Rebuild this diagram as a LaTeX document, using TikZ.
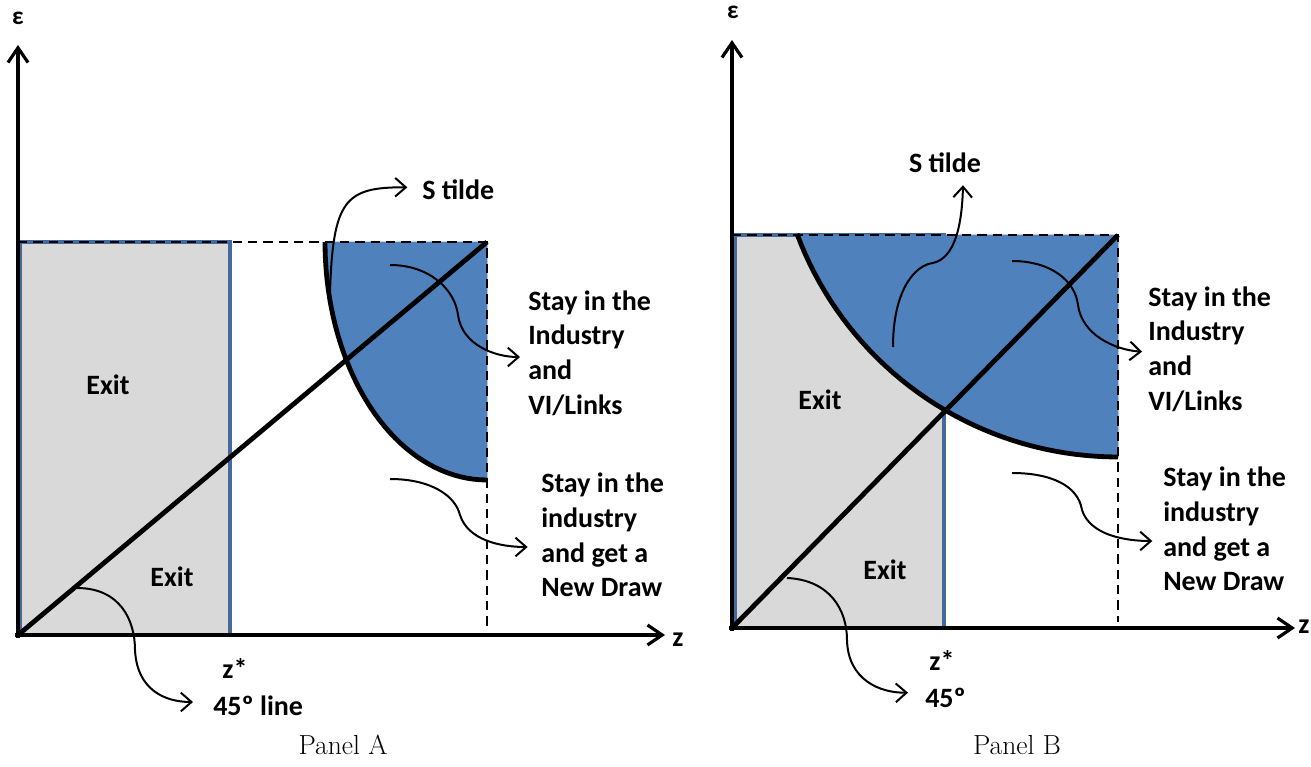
\documentclass[tikz,border=0pt]{standalone}
\usepackage{fontspec}
\newfontfamily\carlito{Carlito}
\usetikzlibrary{arrows.meta}
\definecolor{stayblue}{HTML}{4F81BD}
\definecolor{exitgray}{HTML}{D9D9D9}
\definecolor{exitedge}{HTML}{45699A}
\begin{document}
\begin{tikzpicture}[x=0.75pt,y=-0.75pt,
    axes/.style={line width=2.4pt,-{Straight Barb[length=11pt,width=15pt]}},
    important line/.style={line width=3.6pt},
    guide/.style={line width=1.5pt,dash pattern=on 7pt off 4.5pt},
    exit region/.style={fill=exitgray,draw=exitedge,line width=2.5pt},
    stay region/.style={fill=stayblue,draw=stayblue},
    pointer/.style={line width=1.5pt,-{Straight Barb[length=8pt,width=14pt]}},
    tag text/.style={font=\carlito\bfseries\fontsize{21}{26}\selectfont,inner sep=0pt,align=left},
    panel text/.style={font=\fontsize{20.7}{25}\selectfont,inner sep=0pt},]
    \useasboundingbox (0,0) rectangle (1311,767);
    % Panel A
    \draw[exit region] (20,242) rectangle (230,635);
    \draw[stay region] (325,242) -- (487,242) -- (487,480)
        -- plot[domain=90:0,samples=40] ({487-162*cos(\x)},{242+238*sin(\x)}) -- cycle;
    \draw[guide] (18,242) -- (487,242) -- (487,630);
    \draw[important line] plot[domain=0:90,samples=40] ({487-162*cos(\x)},{242+238*sin(\x)});
    \draw[important line] (18,635) -- (487,242);
    \begin{scope}[axes]
    \draw (18,638) -- (18,45);
    \draw (15,635) -- (665,635);
    \end{scope}
    \node[tag text,font=\carlito\bfseries\fontsize{19}{22}\selectfont] (epsA) at (18,18) {ε};
    \node[tag text] (zA) at (678,640) {z};
    \node[tag text] (exitA1) at (108,385) {Exit};
    \node[tag text] (exitA2) at (172,577) {Exit};
    \node[tag text] (zstarA) at (235,668) {z*};
    \node[tag text,anchor=west] (lineA) at (213,706) {45º line};
    \node[tag text,anchor=west] (stildeA) at (422,190) {S tilde};
    \node[tag text,anchor=west] (linksA) at (528,353) {Stay in the\\Industry\\and\\VI/Links};
    \node[tag text,anchor=west] (drawA) at (541,535) {Stay in the\\industry\\and get a\\New Draw};
    \node[panel text] (panelA) at (343,745) {Panel A};
    \coordinate (tailA1) at (330,292);
    \coordinate (tailA2) at (390,265);
    \coordinate (tailA3) at (390,479);
    \coordinate (tailA4) at (77,588);
    \draw[pointer] (tailA1) .. controls (333,200) and (345,187) .. ([xshift=-11pt,yshift=2pt]stildeA.west);
    \draw[pointer] (tailA2) .. controls (430,265) and (455,290) .. (458,315)
        .. controls (462,345) and (495,357) .. ([xshift=-6pt,yshift=-3pt]linksA.west);
    \draw[pointer] (tailA3) .. controls (430,479) and (455,495) .. (460,515)
        .. controls (468,540) and (500,547) .. ([xshift=-10pt,yshift=-9pt]drawA.west);
    \draw[pointer] (tailA4) .. controls (120,588) and (135,620) .. (135,650)
        .. controls (137,690) and (165,702) .. ([xshift=-15pt,yshift=3pt]lineA.west);
    % Panel B
    \draw[exit region] (735,235) rectangle (944,628);
    \draw[stay region] (797,235) -- (1118,235) -- (1118,457)
        -- plot[domain=90:159.6,samples=40] ({1118+342.5*cos(\x)},{114.5+342.5*sin(\x)}) -- cycle;
    \draw[guide] (732,235) -- (1118,235) -- (1118,622);
    \draw[important line] plot[domain=159.6:90,samples=40] ({1118+342.5*cos(\x)},{114.5+342.5*sin(\x)});
    \draw[important line] (732,628) -- (1118,235);
    \begin{scope}[axes]
    \draw (732,631) -- (732,40);
    \draw (729,628) -- (1295,628);
    \end{scope}
    \node[tag text,font=\carlito\bfseries\fontsize{19}{22}\selectfont] (epsB) at (733,12) {ε};
    \node[tag text] (zB) at (1304,627) {z};
    \node[tag text] (exitB1) at (820,400) {Exit};
    \node[tag text] (exitB2) at (885,570) {Exit};
    \node[tag text] (zstarB) at (942,660) {z*};
    \node[tag text,anchor=west] (degB) at (925,698) {45º};
    \node[tag text] (stildeB) at (945,163) {S tilde};
    \node[tag text,anchor=west] (linksB) at (1148,349) {Stay in the\\Industry\\and\\VI/Links};
    \node[tag text,anchor=west] (drawB) at (1163,529) {Stay in the\\industry\\and get a\\New Draw};
    \node[panel text] (panelB) at (1017,745) {Panel B};
    \coordinate (tailB1) at (893,347);
    \coordinate (tailB2) at (1012,261);
    \coordinate (tailB3) at (1012,473);
    \coordinate (tailB4) at (787,578);
    \draw[pointer] (tailB1) .. controls (893,290) and (915,265) .. (933,263)
        .. controls (955,258) and (962,225) .. ([xshift=13.5pt,yshift=-9pt]stildeB.south);
    \draw[pointer] (tailB2) .. controls (1050,261) and (1075,280) .. (1078,305)
        .. controls (1082,335) and (1115,350) .. ([xshift=-4.5pt,yshift=-2pt]linksB.west);
    \draw[pointer] (tailB3) .. controls (1050,473) and (1078,485) .. (1082,510)
        .. controls (1090,535) and (1125,541) .. ([xshift=-8pt,yshift=-9pt]drawB.west);
    \draw[pointer] (tailB4) .. controls (830,580) and (847,610) .. (847,640)
        .. controls (848,680) and (880,693) .. ([xshift=-12.75pt,yshift=4pt]degB.west);
\end{tikzpicture}
\end{document}
